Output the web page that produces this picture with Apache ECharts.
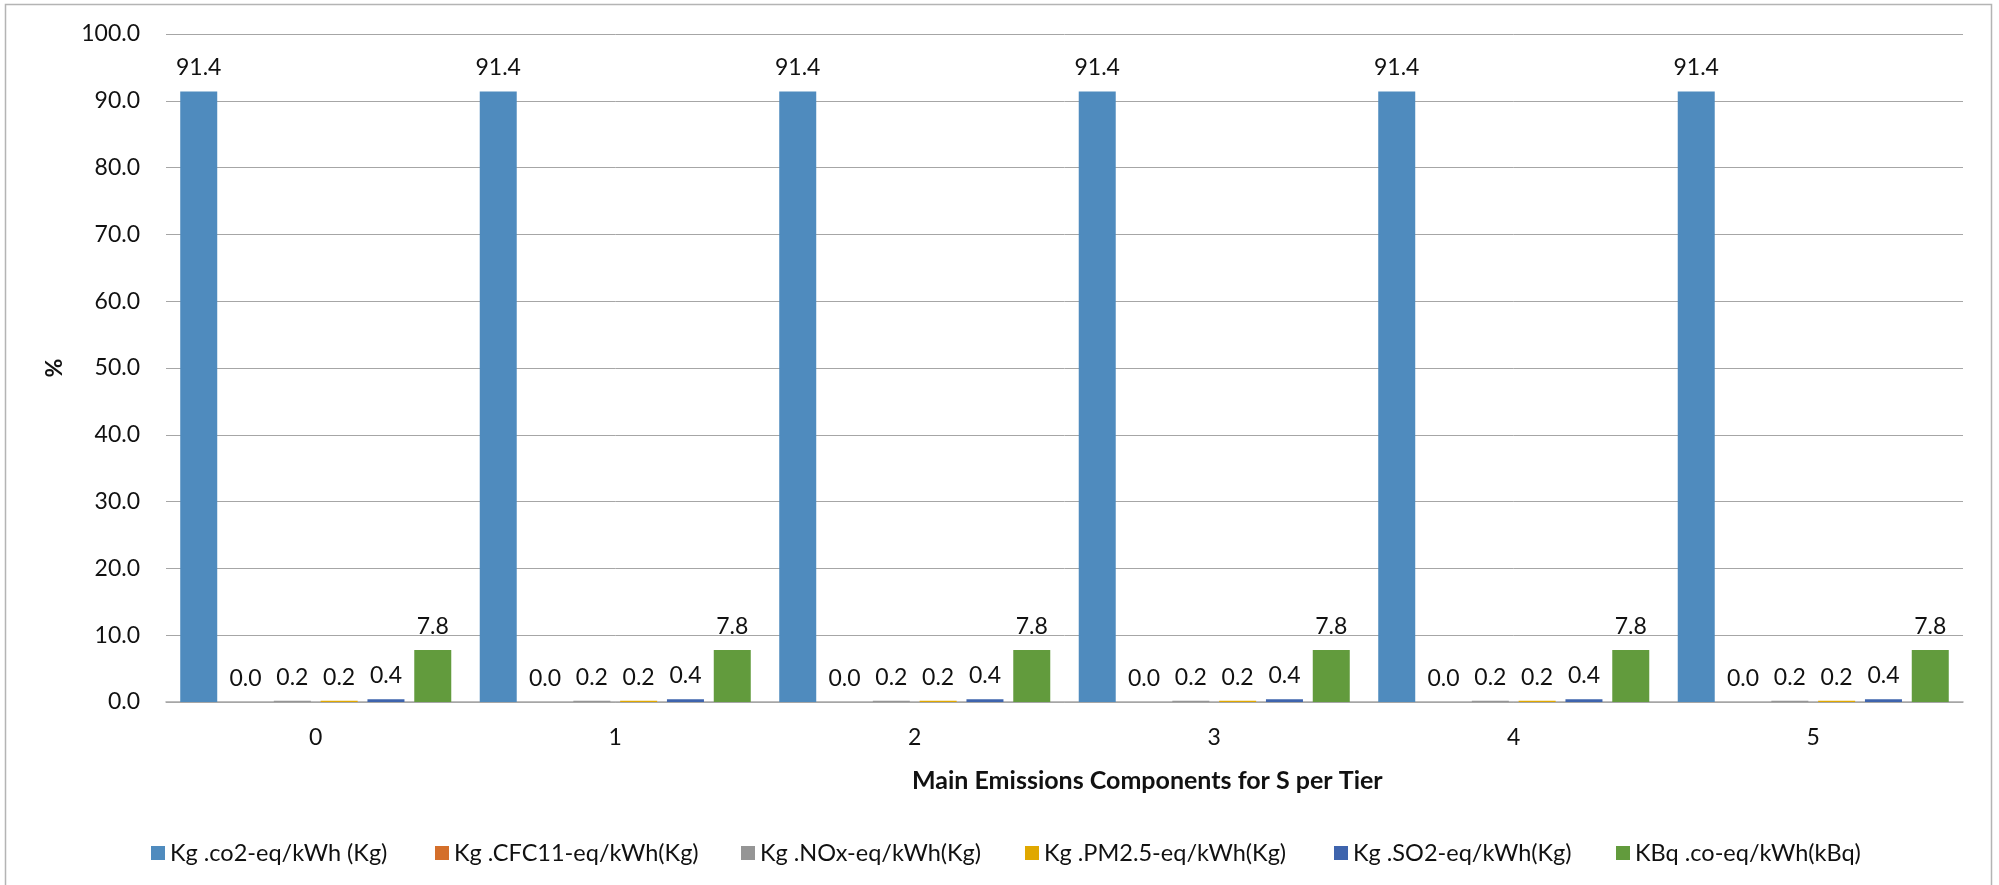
<!DOCTYPE html>
<html>
<head>
<meta charset="utf-8">
<script src="https://cdn.jsdelivr.net/npm/echarts@6/dist/echarts.min.js"></script>
<style>
html,body{margin:0;padding:0;background:#fff;}
#chart{width:1999px;height:885px;}
</style>
</head>
<body>
<div id="chart"></div>
<script>
const categories = ['0', '1', '2', '3', '4', '5'];
const seriesNames = [
  'Kg .co2-eq/kWh (Kg)',
  'Kg .CFC11-eq/kWh(Kg)',
  'Kg .NOx-eq/kWh(Kg)',
  'Kg .PM2.5-eq/kWh(Kg)',
  'Kg .SO2-eq/kWh(Kg)',
  'KBq .co-eq/kWh(kBq)'
];
const co2 = [91.4, 91.4, 91.4, 91.4, 91.4, 91.4];
const cfc11 = [0.0, 0.0, 0.0, 0.0, 0.0, 0.0];
const nox = [0.2, 0.2, 0.2, 0.2, 0.2, 0.2];
const pm25 = [0.2, 0.2, 0.2, 0.2, 0.2, 0.2];
const so2 = [0.4, 0.4, 0.4, 0.4, 0.4, 0.4];
const kbq = [7.8, 7.8, 7.8, 7.8, 7.8, 7.8];
const yTicks = [0, 10, 20, 30, 40, 50, 60, 70, 80, 90, 100];
const xAxisTitle = 'Main Emissions Components for S per Tier';
const yAxisTitle = '%';

const seriesData = [co2, cfc11, nox, pm25, so2, kbq];
const colors = ['#4F8BBE', '#D46F2B', '#959595', '#E0A800', '#3E64AD', '#629B3D'];
const legendLeft = [146, 430, 736, 1020, 1329, 1611];
const FONT = 'Lato';

const chart = echarts.init(document.getElementById('chart'), null, {renderer: 'canvas'});

const series = seriesNames.map((name, i) => ({
  name: name,
  type: 'bar',
  data: seriesData[i],
  barWidth: 37,
  barGap: '26.5%',
  itemStyle: {color: colors[i]},
  label: {
    show: true,
    position: 'top',
    distance: 12,
    fontFamily: FONT,
    fontSize: 23,
    color: '#111',
    formatter: p => Number(p.value).toFixed(1)
  },
  emphasis: {disabled: true}
}));

const legends = seriesNames.map((name, i) => ({
  data: [name],
  left: legendLeft[i],
  top: 836,
  itemWidth: 14,
  itemHeight: 14,
  itemGap: 7,
  icon: 'rect',
  textStyle: {fontFamily: FONT, fontSize: 23.5, color: '#111'},
  selectedMode: false
}));

chart.setOption({
  animation: false,
  backgroundColor: '#fff',
  textStyle: {fontFamily: FONT},
  title: {
    text: xAxisTitle,
    left: 912,
    top: 768,
    padding: 0,
    textStyle: {fontFamily: FONT, fontSize: 25, fontWeight: 'bold', color: '#111'}
  },
  legend: legends,
  grid: {left: 166, right: 36, top: 34, bottom: 183, containLabel: false},
  xAxis: {
    type: 'category',
    data: categories,
    axisLine: {show: true, lineStyle: {color: '#A6A6A6', width: 1.5}},
    axisTick: {show: false},
    axisLabel: {fontFamily: FONT, fontSize: 23, color: '#111', margin: 24}
  },
  yAxis: {
    type: 'value',
    min: yTicks[0],
    max: yTicks[yTicks.length - 1],
    interval: yTicks[1] - yTicks[0],
    name: yAxisTitle,
    nameLocation: 'middle',
    nameRotate: 90,
    nameGap: 100,
    nameTextStyle: {fontFamily: FONT, fontSize: 23, fontWeight: 'bold', color: '#111'},
    axisLine: {show: false},
    axisTick: {show: false},
    splitLine: {show: true, lineStyle: {color: '#A6A6A6', width: 1}},
    axisLabel: {fontFamily: FONT, fontSize: 23, color: '#111', margin: 26, formatter: v => v.toFixed(1)}
  },
  graphic: [{
    type: 'rect',
    shape: {x: 5.5, y: 4.5, width: 1986, height: 900},
    style: {fill: 'none', stroke: '#B4B4B4', lineWidth: 1.5},
    silent: true,
    z: -1
  }],
  series: series
});
</script>
</body>
</html>
